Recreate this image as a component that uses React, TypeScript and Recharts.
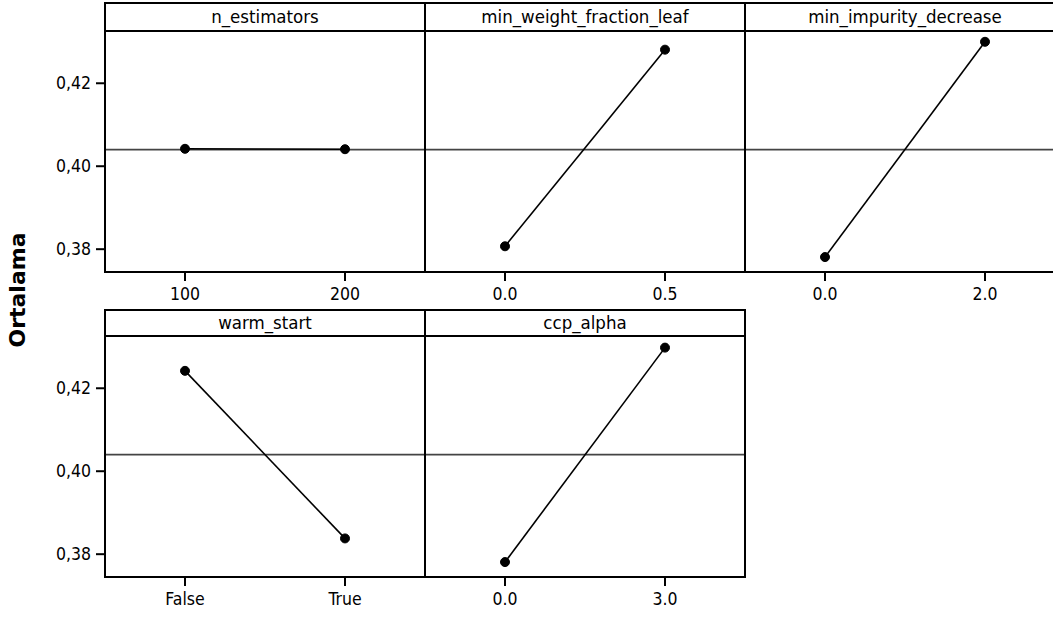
import React from "react";
import { LineChart, Line, XAxis, YAxis, ReferenceLine } from "recharts";

// main effects for mean, one panel per factor
const nEstimatorsLevels = ["100", "200"];
const nEstimatorsMeans = [0.4042, 0.4041];

const minWeightLevels = ["0.0", "0.5"];
const minWeightMeans = [0.3807, 0.4281];

const minImpurityLevels = ["0.0", "2.0"];
const minImpurityMeans = [0.3781, 0.43];

const warmStartLevels = ["False", "True"];
const warmStartMeans = [0.4242, 0.3838];

const ccpAlphaLevels = ["0.0", "3.0"];
const ccpAlphaMeans = [0.3781, 0.4298];

const grandMean = 0.404;
const yTicks = [0.38, 0.4, 0.42];
const yDomain = [0.3745, 0.4326];

const FONT = "'DejaVu Sans Condensed', 'DejaVu Sans', sans-serif";
const YW = 70;
const XH = 40;
const PW = 320;

const toRows = (levels: string[], means: number[]) =>
  levels.map((lvl, i) => ({ level: lvl, mean: means[i] }));

interface PanelProps {
  title: string;
  levels: string[];
  means: number[];
  left: number;
  top: number;
  headerBottom: number;
  plotBottom: number;
  showY: boolean;
}

function Panel({ title, levels, means, left, top, headerBottom, plotBottom, showY }: PanelProps) {
  const data = toRows(levels, means);
  const plotH = plotBottom - headerBottom;
  const chartW = PW + (showY ? YW : 0);
  const tick = { fontSize: 17.5, fill: "#000", fontFamily: FONT };

  return (
    <>
      <div style={{ position: "absolute", left: showY ? left - YW : left, top: headerBottom }}>
        <LineChart width={chartW} height={plotH + XH} data={data} margin={{ top: 0, right: 0, bottom: 0, left: 0 }}>
          <XAxis
            dataKey="level"
            type="category"
            scale="point"
            padding={{ left: 80, right: 80 }}
            height={XH}
            axisLine={false}
            tickLine={{ stroke: "#000", strokeWidth: 2 }}
            tickSize={9}
            tickMargin={7}
            tick={tick}
            interval={0}
          />
          <YAxis
            hide={!showY}
            width={YW}
            domain={yDomain}
            ticks={yTicks}
            type="number"
            allowDataOverflow
            axisLine={false}
            tickLine={{ stroke: "#000", strokeWidth: 2 }}
            tickSize={9}
            tickMargin={5}
            tick={tick}
            tickFormatter={(v: number) => v.toFixed(2).replace(".", ",")}
          />
          <ReferenceLine y={grandMean} stroke="#444" strokeWidth={1.6} />
          <Line
            dataKey="mean"
            stroke="#000"
            strokeWidth={1.6}
            dot={{ r: 4.5, fill: "#000", stroke: "#000", strokeWidth: 1 }}
            isAnimationActive={false}
          />
        </LineChart>
      </div>
      <div
        style={{
          position: "absolute",
          left: left - 1,
          top: top - 1,
          width: PW + 2,
          height: plotBottom - top + 2,
          border: "2px solid #000",
          boxSizing: "border-box",
        }}
      />
      <div
        style={{
          position: "absolute",
          left: left,
          top: top,
          width: PW,
          height: headerBottom - top + 1,
          display: "flex",
          alignItems: "center",
          justifyContent: "center",
          fontFamily: FONT,
          fontSize: 18.5,
          color: "#000",
          borderBottom: "2px solid #000",
          boxSizing: "border-box",
        }}
      >
        {title}
      </div>
    </>
  );
}

export default function App() {
  return (
    <div
      style={{
        position: "absolute",
        left: 0,
        top: 0,
        width: 1053,
        height: 618,
        overflow: "hidden",
        background: "#fff",
      }}
    >
      <Panel title="n_estimators" levels={nEstimatorsLevels} means={nEstimatorsMeans}
        left={105} top={3} headerBottom={31} plotBottom={272} showY />
      <Panel title="min_weight_fraction_leaf" levels={minWeightLevels} means={minWeightMeans}
        left={425} top={3} headerBottom={31} plotBottom={272} showY={false} />
      <Panel title="min_impurity_decrease" levels={minImpurityLevels} means={minImpurityMeans}
        left={745} top={3} headerBottom={31} plotBottom={272} showY={false} />
      <Panel title="warm_start" levels={warmStartLevels} means={warmStartMeans}
        left={105} top={310} headerBottom={336} plotBottom={577} showY />
      <Panel title="ccp_alpha" levels={ccpAlphaLevels} means={ccpAlphaMeans}
        left={425} top={310} headerBottom={336} plotBottom={577} showY={false} />
      <div
        style={{
          position: "absolute",
          left: 17,
          top: 290,
          transform: "translate(-50%, -50%) rotate(-90deg)",
          fontFamily: "'DejaVu Sans', sans-serif",
          fontWeight: "bold",
          fontSize: 22,
          color: "#000",
          whiteSpace: "nowrap",
        }}
      >
        Ortalama
      </div>
    </div>
  );
}
